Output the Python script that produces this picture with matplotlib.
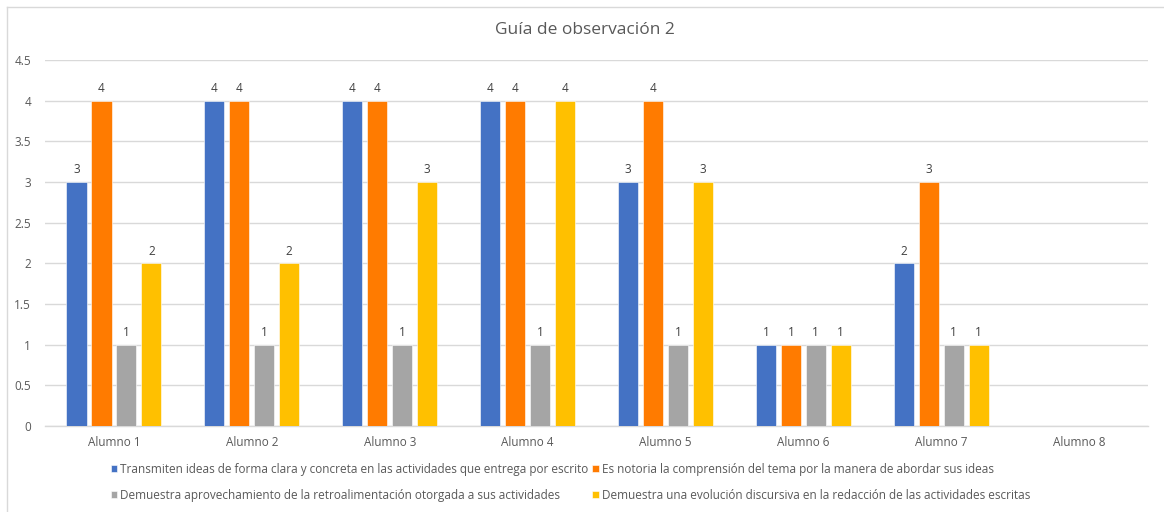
import numpy as np
import matplotlib
matplotlib.use("Agg")
import matplotlib.pyplot as plt
from matplotlib.lines import Line2D

plt.rcParams['font.family'] = ['Open Sans', 'DejaVu Sans']

title = "Guía de observación 2"
categories = ["Alumno 1", "Alumno 2", "Alumno 3", "Alumno 4",
              "Alumno 5", "Alumno 6", "Alumno 7", "Alumno 8"]
series_names = [
    "Transmiten ideas de forma clara y concreta en las actividades que entrega por escrito",
    "Es notoria la comprensión del tema por la manera de abordar sus ideas",
    "Demuestra aprovechamiento de la retroalimentación otorgada a sus actividades",
    "Demuestra una evolución discursiva en la redacción de las actividades escritas",
]
transmiten = [3, 4, 4, 4, 3, 1, 2, np.nan]
comprension = [4, 4, 4, 4, 4, 1, 3, np.nan]
aprovechamiento = [1, 1, 1, 1, 1, 1, 1, np.nan]
evolucion = [2, 2, 3, 4, 3, 1, 1, np.nan]
yticks = [0, 0.5, 1, 1.5, 2, 2.5, 3, 3.5, 4, 4.5]
ytick_labels = ["0", "0.5", "1", "1.5", "2", "2.5", "3", "3.5", "4", "4.5"]

series = [transmiten, comprension, aprovechamiento, evolucion]
colors = ["#4472C4", "#FF7B00", "#A5A5A5", "#FFC000"]

W, H = 1164, 512
fig = plt.figure(figsize=(W / 100, H / 100), dpi=100)
fig.patch.set_facecolor("white")

# chart border (top and left visible)
fig.add_artist(Line2D([7 / W, 7 / W], [0, 1 - 7 / H], color="#D9D9D9", lw=1, transform=fig.transFigure))
fig.add_artist(Line2D([7 / W, 1], [1 - 7 / H, 1 - 7 / H], color="#D9D9D9", lw=1, transform=fig.transFigure))

left, right, top, bottom = 45, 1148, 60, 426
ax = fig.add_axes([left / W, 1 - bottom / H, (right - left) / W, (bottom - top) / H])

x = np.arange(len(categories))
step = 0.181
width = 0.146
offsets = [-1.5, -0.5, 0.5, 1.5]
handles = []
for vals, col, off, name in zip(series, colors, offsets, series_names):
    bars = ax.bar(x + off * step, vals, width, color=col, edgecolor="white", linewidth=0.4,
                  label=name, zorder=3)
    handles.append(bars)
    labels = ["" if np.isnan(v) else f"{v:g}" for v in vals]
    ax.bar_label(bars, labels=labels, padding=4, fontsize=8.5, color="#404040")

ax.set_xlim(-0.5, len(categories) - 0.5)
ax.set_ylim(0, 4.5)
ax.set_yticks(yticks)
ax.set_yticklabels(ytick_labels)
ax.set_xticks(x)
ax.set_xticklabels(categories)
ax.grid(axis="y", color="#D9D9D9", linewidth=1, zorder=0)
for s in ["top", "right", "left"]:
    ax.spines[s].set_visible(False)
ax.spines["bottom"].set_color("#D9D9D9")
ax.spines["bottom"].set_linewidth(1)
ax.tick_params(axis="both", length=0, colors="#595959", labelsize=8.5)
ax.tick_params(axis="y", pad=10)
ax.tick_params(axis="x", pad=7)

fig.text(585 / W, 1 - 30 / H, title, ha="center", va="center", fontsize=12.5, color="#595959")

order = [0, 2, 1, 3]
leg = fig.legend([handles[i] for i in order], [series_names[i] for i in order],
                 loc="upper left", bbox_to_anchor=(111 / W, 1 - 463 / H), ncol=2,
                 frameon=False, fontsize=8.5, handlelength=0.55, handleheight=0.55,
                 handletextpad=0.25, columnspacing=0.3, labelspacing=1.1, borderpad=0,
                 borderaxespad=0)
for t in leg.get_texts():
    t.set_color("#595959")

fig.savefig("out.png", dpi=100, facecolor="white")
